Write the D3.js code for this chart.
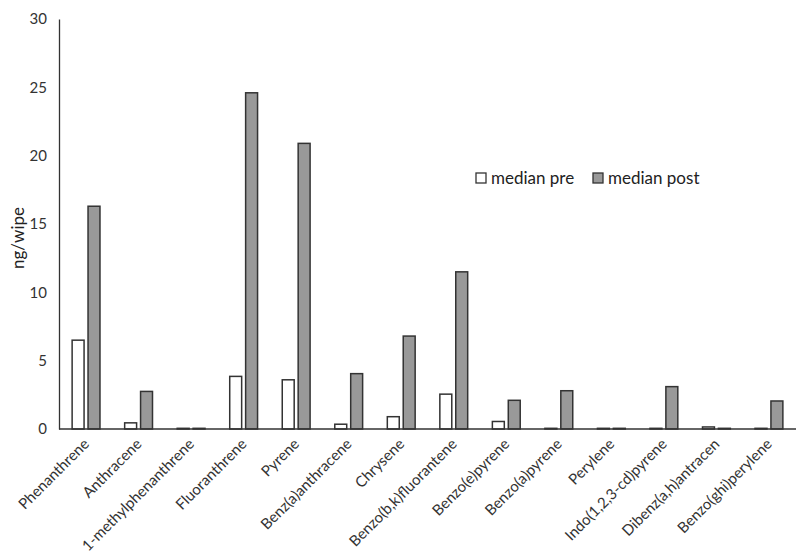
<!DOCTYPE html>
<html><head><meta charset="utf-8">
<script src="https://cdn.jsdelivr.net/npm/d3@7"></script>
<style>body{margin:0;background:#fff}svg{display:block}</style>
</head><body><svg id="c" width="796" height="556"></svg>
<script>
const categories = ["Phenanthrene","Anthracene","1-methylphenanthrene","Fluoranthrene","Pyrene","Benz(a)anthracene","Chrysene","Benzo(b,k)fluorantene","Benzo(e)pyrene","Benzo(a)pyrene","Perylene","Indo(1,2,3-cd)pyrene","Dibenz(a,h)antracen","Benzo(ghi)perylene"];
const medianPre  = [6.5, 0.45, 0.05, 3.85, 3.6, 0.35, 0.9, 2.55, 0.55, 0.05, 0.05, 0.05, 0.15, 0.05];
const medianPost = [16.3, 2.75, 0.05, 24.6, 20.9, 4.05, 6.8, 11.5, 2.1, 2.8, 0.05, 3.1, 0.05, 2.05];
const seriesNames = ["median pre","median post"];
const yTicks = [0,5,10,15,20,25,30];

const svg = d3.select("#c");
const font = "Lato, 'Open Sans', sans-serif";
const m = {l:59, r:0, t:19, b:127};
const W = 796, H = 556;
const x = d3.scaleBand().domain(categories).range([m.l, W - m.r]).paddingInner(0.47).paddingOuter(0.25);
const xs = d3.scaleBand().domain(seriesNames).range([0, x.bandwidth()]).paddingInner(0.25);
const y = d3.scaleLinear().domain([0,30]).range([H - m.b, m.t]);
const colors = {"median pre":"#ffffff","median post":"#999999"};

const data = categories.map((c,i)=>({c, vals:[{s:"median pre",v:medianPre[i]},{s:"median post",v:medianPost[i]}]}));

const g = svg.append("g");
g.selectAll("g.grp").data(data).join("g").attr("class","grp")
 .attr("transform", d=>`translate(${x(d.c)},0)`)
 .selectAll("rect").data(d=>d.vals).join("rect")
 .attr("x", d=>xs(d.s)).attr("width", xs.bandwidth())
 .attr("y", d=>y(d.v)).attr("height", d=>y(0)-y(d.v))
 .attr("fill", d=>colors[d.s]).attr("stroke","#333").attr("stroke-width",1.5);

// y axis
const ya = svg.append("g").attr("transform",`translate(${m.l},0)`)
 .call(d3.axisLeft(y).tickValues(yTicks).tickSize(0).tickPadding(12));
ya.select(".domain").attr("stroke","#333").attr("stroke-width",1.3);
ya.selectAll("text").attr("font-family",font).attr("font-size",15).attr("fill","#333");

// x axis
const xa = svg.append("g").attr("transform",`translate(0,${y(0)})`)
 .call(d3.axisBottom(x).tickSize(0).tickPadding(0));
xa.select(".domain").attr("stroke","#333").attr("stroke-width",1.3).attr("d",`M${m.l},0H${W}`);
xa.selectAll("text").attr("font-family",font).attr("font-size",15).attr("fill","#333")
 .attr("text-anchor","end").attr("dy",0).attr("transform","translate(4,16) rotate(-45)");

// y label
svg.append("text").attr("transform",`translate(24,238) rotate(-90)`)
 .attr("text-anchor","middle").attr("font-family",font).attr("font-size",17).attr("fill","#222").text("ng/wipe");

// legend
const lg = svg.append("g").attr("transform","translate(476,173)");
const lx = [0, 117];
seriesNames.forEach((s,i)=>{
  lg.append("rect").attr("x",lx[i]).attr("y",0).attr("width",10).attr("height",10)
    .attr("fill",colors[s]).attr("stroke","#333").attr("stroke-width",1.3);
  lg.append("text").attr("x",lx[i]+15).attr("y",11).attr("font-family",font).attr("font-size",17)
    .attr("fill","#222").text(s);
});
</script></body></html>
